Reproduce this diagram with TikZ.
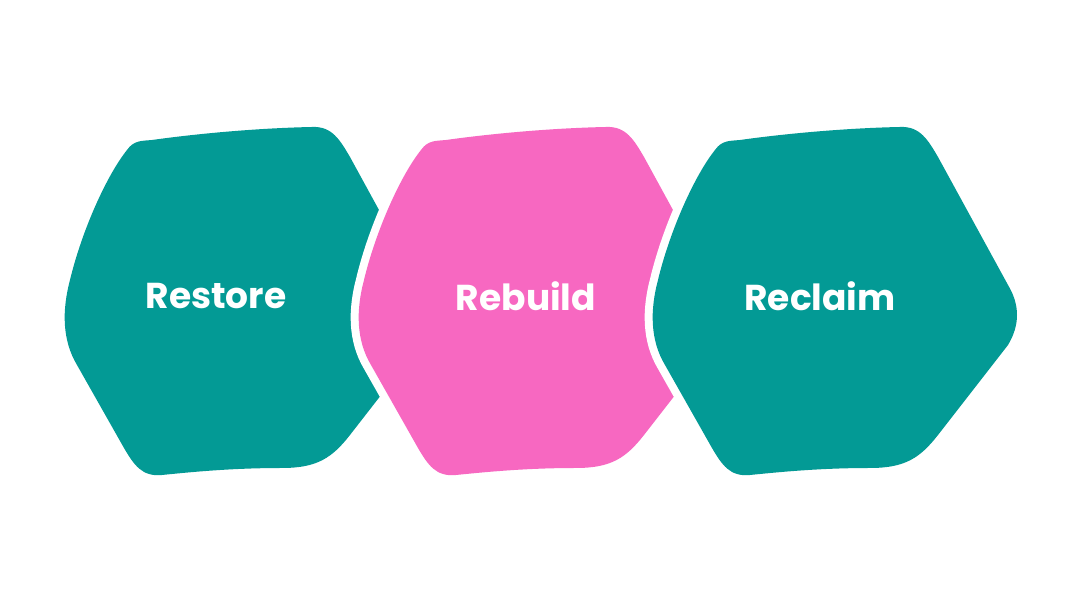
\documentclass[tikz,border=0pt]{standalone}
\usepackage{fontspec}
\setsansfont{Poppins}
\usepackage{tikz}

\definecolor{tealblob}{RGB}{3,154,149}
\definecolor{pinkblob}{RGB}{247,104,193}

% one rounded hexagon, centred on the origin
\newcommand{\blobpath}{(-80,160) .. controls (-30,167) and (30,172) .. (80,173)
  .. controls (100,174) and (108,160) .. (118,143) -- (188,15)
  .. controls (200,-5) and (200,-25) .. (188,-45) -- (118,-135)
  .. controls (100,-158) and (85,-168) .. (50,-168)
  .. controls (0,-168) and (-40,-172) .. (-70,-175)
  .. controls (-90,-177) and (-98,-165) .. (-108,-148) -- (-155,-65)
  .. controls (-170,-40) and (-170,-10) .. (-162,20)
  .. controls (-150,70) and (-125,125) .. (-105,150)
  .. controls (-98,160) and (-90,159) .. (-80,160) -- cycle}

\tikzset{
  blob/.style={preaction={draw=white,line width=16}},
  word/.style={text=white,font=\sffamily\bfseries\fontsize{36}{40}\selectfont}
}

\begin{document}
\begin{tikzpicture}[x=1pt,y=1pt]
\useasboundingbox (0,0) rectangle (1080,607);
% objects at depth 50:
\path[fill=tealblob,shift={(232,307)}] \blobpath;
\path[blob,fill=pinkblob,shift={(526,307)}] \blobpath;
\path[blob,fill=tealblob,shift={(820,307)}] \blobpath;
% labels:
\node[word] (restore) at (216,311) {Restore};
\node[word] (rebuild) at (526,311) {Rebuild};
\node[word] (reclaim) at (820,311) {Reclaim};
\end{tikzpicture}
\end{document}
